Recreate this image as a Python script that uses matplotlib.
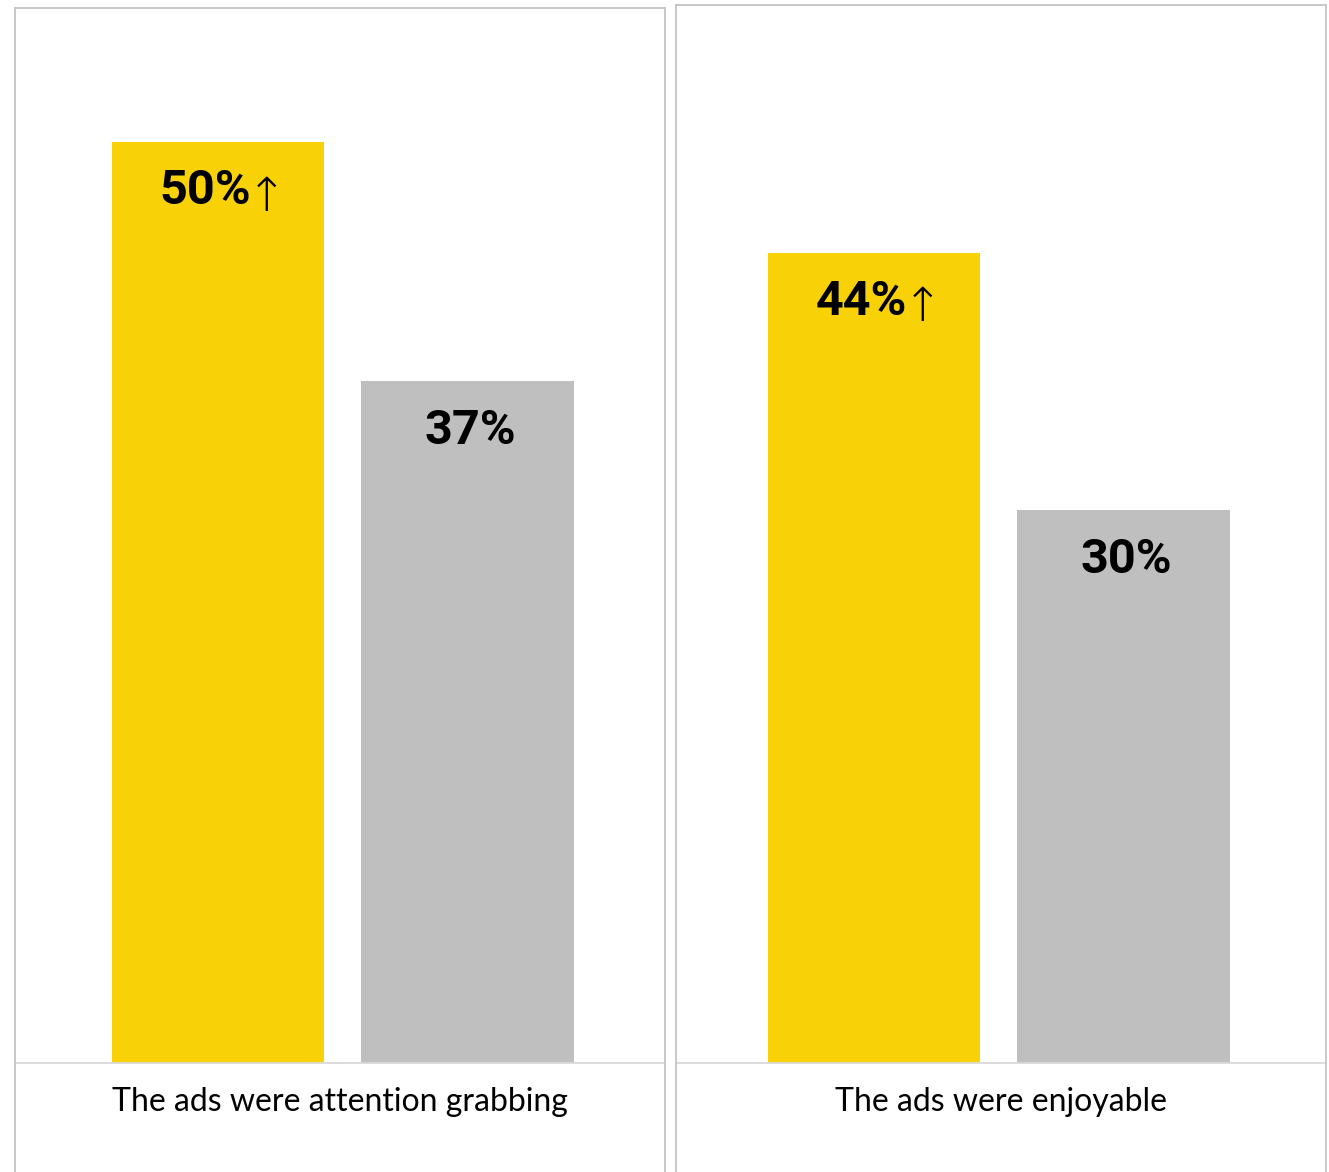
import matplotlib.pyplot as plt

# survey results: exposed group vs. control
statements = ['The ads were attention grabbing', 'The ads were enjoyable']
exposed = [50, 44]
control = [37, 30]
significant = [True, True]

W, H = 1329, 1172
yellow = '#f9d107'
grey = '#bfbfbf'
frame = '#c4c4c4'

fig = plt.figure(figsize=(W / 100, H / 100), dpi=100)

# panel geometry in pixels: left edge, top edge, x-limits
panels = [(15, 8, (-0.8136, 1.7916)), (676, 5, (-0.7936, 1.8116))]
pw = 650
base = 1063
px_per_pt = 18.42

for i, (x0, top, xl) in enumerate(panels):
    ax = fig.add_axes([x0 / W, (H - base) / H, pw / W, (base - top) / H])
    vals = [exposed[i], control[i]]
    ax.bar([0, 1], vals, width=0.85, color=[yellow, grey])
    ax.set_xlim(*xl)
    ax.set_ylim(0, (base - top) / px_per_pt)
    ax.set_xticks([])
    ax.set_yticks([])
    for s in ['left', 'right', 'top']:
        ax.spines[s].set_color(frame)
        ax.spines[s].set_linewidth(1.3)
    ax.spines['bottom'].set_color('#d9d9d9')
    ax.spines['bottom'].set_linewidth(1.3)

    for j, v in enumerate(vals):
        arrow = significant[i] and j == 0
        t = ax.annotate(f'{v}%', xy=(j, v), xytext=(-9 if arrow else 2, -19),
                        textcoords='offset points', ha='center', va='top',
                        fontsize=35, fontweight='bold', family='Roboto', color='black')
        if arrow:
            ax.annotate('↑', xy=(1, 0), xycoords=t, xytext=(-3, -4),
                        textcoords='offset points', ha='left', va='bottom',
                        fontsize=34, family='DejaVu Sans', fontweight='light',
                        color='black')

    # label strip below the baseline
    lab = fig.add_axes([x0 / W, 0, pw / W, (H - base) / H])
    lab.set_xlim(0, 1)
    lab.set_ylim(0, 1)
    lab.set_xticks([])
    lab.set_yticks([])
    lab.patch.set_alpha(0)
    for s in ['top', 'bottom']:
        lab.spines[s].set_visible(False)
    for s in ['left', 'right']:
        lab.spines[s].set_color(frame)
        lab.spines[s].set_linewidth(1.3)
    lab.text(0.5, 0.64, statements[i], ha='center', va='center',
             fontsize=23, family='Lato', color='black')

fig.savefig('out.png', dpi=100, facecolor='white')
